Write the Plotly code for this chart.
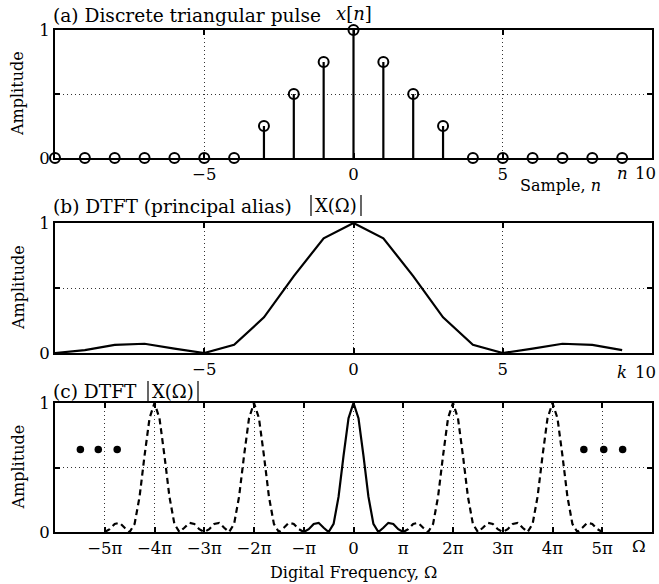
import math
import plotly.graph_objects as go

PI = math.pi

# ---- data ----
n = list(range(-10, 10))
x_n = [0, 0, 0, 0, 0, 0, 0, 0.25, 0.5, 0.75, 1.0, 0.75, 0.5, 0.25, 0, 0, 0, 0, 0, 0]

k = list(range(-10, 10))
X_k = [0.0, 0.022, 0.0625, 0.071, 0.033, 0.0, 0.0625, 0.274, 0.592, 0.882,
       1.0, 0.882, 0.592, 0.274, 0.0625, 0.0, 0.033, 0.071, 0.0625, 0.022]

omega_ticks = [-5, -4, -3, -2, -1, 0, 1, 2, 3, 4, 5]
omega_ticktext = ["−5π", "−4π", "−3π", "−2π", "−π", "0", "π", "2π", "3π", "4π", "5π"]
ellipsis_left = [-5.49, -5.13, -4.75]
ellipsis_right = [4.63, 5.03, 5.41]
ellipsis_level = 0.64

FONT = "DejaVu Serif"
FS_TICK = 16.5
FS_LAB = 16
FS_TITLE = 18.6

fig = go.Figure()

# (a) stems
sx, sy = [], []
for ni, vi in zip(n, x_n):
    if vi != 0:
        sx += [ni, ni, None]
        sy += [0, vi, None]
fig.add_trace(go.Scatter(x=sx, y=sy, mode="lines", line=dict(color="black", width=2.2),
                         xaxis="x", yaxis="y", showlegend=False, cliponaxis=False))
fig.add_trace(go.Scatter(x=n, y=x_n, mode="markers",
                         marker=dict(symbol="circle-open", size=10, color="black",
                                     line=dict(width=2, color="black")),
                         xaxis="x", yaxis="y", showlegend=False, cliponaxis=False))

# (b) principal alias samples
fig.add_trace(go.Scatter(x=k, y=X_k, mode="lines", line=dict(color="black", width=2.2),
                         xaxis="x2", yaxis="y2", showlegend=False, cliponaxis=False))

# (c) periodic DTFT
def period_val(m):
    return X_k[(m + 10) % 20]

main_x = [m / 10 * PI for m in range(-10, 11)]
main_y = [period_val(m) for m in range(-10, 11)]
dash_x, dash_y = [], []
for m in range(-50, -9):
    dash_x.append(m / 10 * PI); dash_y.append(period_val(m))
dash_x.append(None); dash_y.append(None)
for m in range(10, 51):
    dash_x.append(m / 10 * PI); dash_y.append(period_val(m))

fig.add_trace(go.Scatter(x=dash_x, y=dash_y, mode="lines",
                         line=dict(color="black", width=2.2, dash="6px,4px"),
                         xaxis="x3", yaxis="y3", showlegend=False, cliponaxis=False))
fig.add_trace(go.Scatter(x=main_x, y=main_y, mode="lines", line=dict(color="black", width=2.2),
                         xaxis="x3", yaxis="y3", showlegend=False, cliponaxis=False))
fig.add_trace(go.Scatter(x=[v * PI for v in ellipsis_left + ellipsis_right],
                         y=[ellipsis_level] * 6, mode="markers",
                         marker=dict(symbol="circle", size=7.5, color="black"),
                         xaxis="x3", yaxis="y3", showlegend=False))

H = 584.0
def py(px):
    return 1 - px / H

def pxx(px):
    return (px - 55) / (659 - 62)

dom_a = [py(158), py(30)]
dom_b = [py(353), py(223)]
dom_c = [py(532), py(403)]

axis_common = dict(showline=True, linecolor="black", linewidth=2, mirror="ticks",
                   ticks="inside", ticklen=5, tickwidth=1.5, tickcolor="black",
                   showgrid=True, gridcolor="#333", gridwidth=1, griddash="1px,3px",
                   zeroline=False, automargin=False,
                   tickfont=dict(family=FONT, size=FS_TICK, color="black"))

fig.update_layout(
    width=659, height=584,
    margin=dict(l=55, r=7, t=0, b=0, pad=0, autoexpand=False),
    paper_bgcolor="white", plot_bgcolor="white",
    font=dict(family=FONT, size=FS_LAB, color="black"),
    xaxis=dict(axis_common, domain=[0, 1], range=[-10, 10], anchor="y",
               tickvals=[-5, 0, 5, 10], ticktext=["−5", "0", "5", ""]),
    yaxis=dict(axis_common, domain=dom_a, range=[0, 1], anchor="x",
               tickvals=[0, 0.5, 1], ticktext=["0", "", "1"]),
    xaxis2=dict(axis_common, domain=[0, 1], range=[-10, 10], anchor="y2",
                tickvals=[-5, 0, 5, 10], ticktext=["−5", "0", "5", ""]),
    yaxis2=dict(axis_common, domain=dom_b, range=[0, 1], anchor="x2",
                tickvals=[0, 0.5, 1], ticktext=["0", "", "1"]),
    xaxis3=dict(axis_common, domain=[0, 1], range=[-6 * PI, 6 * PI], anchor="y3",
                tickvals=[v * PI for v in omega_ticks], ticktext=omega_ticktext),
    yaxis3=dict(axis_common, domain=dom_c, range=[0, 1], anchor="x3",
                tickvals=[0, 0.5, 1], ticktext=["0", "", "1"]),
)

def ann(text, x, y, xref="paper", yref="paper", xanchor="center", yanchor="middle", angle=0, size=FS_LAB):
    fig.add_annotation(text=text, x=x, y=y, xref=xref, yref=yref, xanchor=xanchor,
                       yanchor=yanchor, showarrow=False, textangle=angle,
                       font=dict(family=FONT, size=size, color="black"))

def vbar(xp, y0p, y1p):
    fig.add_shape(type="line", xref="paper", yref="paper", x0=pxx(xp), x1=pxx(xp),
                  y0=py(y0p), y1=py(y1p), line=dict(color="black", width=1.2))

# titles
ann("(a) Discrete triangular pulse", pxx(51), py(15), xanchor="left", size=FS_TITLE)
ann("<i>x</i>[<i>n</i>]", 0, py(13), xref="x", size=18)
ann("(b) DTFT (principal alias)", pxx(51), py(207), xanchor="left", size=FS_TITLE)
ann("X(Ω)", pxx(336), py(206), size=18)
vbar(311, 195, 216)
vbar(361, 195, 216)
ann("(c) DTFT", pxx(51), py(391), xanchor="left", size=FS_TITLE)
ann("X(Ω)", pxx(173), py(391), size=18)
vbar(148, 381, 403)
vbar(198, 381, 403)

# axis labels
for y0, y1 in [(30, 158), (223, 353), (403, 532)]:
    ann("Amplitude", pxx(18), py((y0 + y1) / 2), angle=-90)
ann("<i>n</i>", 9, py(174), xref="x", size=FS_TICK)
ann("10", pxx(658), py(174), xanchor="right", size=FS_TICK)
ann("Sample, <i>n</i>", pxx(560), py(185))
ann("<i>k</i>", 9, py(372), xref="x2", size=FS_TICK)
ann("10", pxx(658), py(372), xanchor="right", size=FS_TICK)
ann("Ω", 5.73 * PI, py(546), xref="x3", size=FS_TICK)
ann("Digital Frequency, Ω", pxx(353), py(572))

fig.write_html("out.html")
